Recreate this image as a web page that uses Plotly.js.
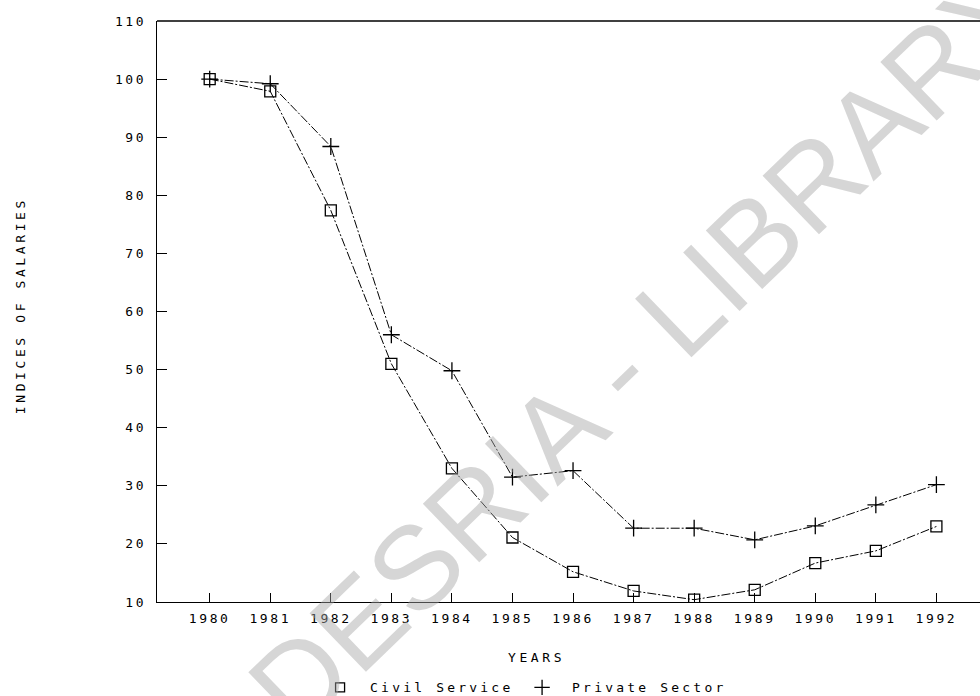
<!DOCTYPE html>
<html><head><meta charset="utf-8">
<script src="https://cdn.plot.ly/plotly-3.0.1.min.js"></script>
<style>
html,body{margin:0;padding:0;background:#fff;}
#chart{width:980px;height:696px;}
#chart .xtick text, #chart .ytick text{letter-spacing:2.6px;}
#chart .legendtext{letter-spacing:3.2px;}
#chart .legend .scrollbox, #chart .legend g{clip-path:none !important;}
#chart g.annotation[data-index="1"] text, #chart g.annotation[data-index="2"] text{letter-spacing:3.6px;}
</style>
</head><body><div id="chart"></div>
<script>
const years = [1980,1981,1982,1983,1984,1985,1986,1987,1988,1989,1990,1991,1992];
const civilService = [100,97.9,77.4,51.0,33.0,21.1,15.2,11.9,10.4,12.1,16.7,18.8,23.0];
const privateSector = [100,99.2,88.4,56.0,49.8,31.5,32.6,22.7,22.7,20.7,23.1,26.7,30.2];
const yTicks = [10,20,30,40,50,60,70,80,90,100,110];
const seriesNames = ['Civil Service','Private Sector'];
const xTitle = 'YEARS';
const yTitle = 'INDICES OF SALARIES';
const watermark = 'CODESRIA - LIBRARY';

const mono = 'DejaVu Sans Mono, monospace';
const traces = [
  {x: years, y: civilService, mode: 'lines+markers', name: seriesNames[0], showlegend: false,
   line: {color: '#000', width: 1, dash: '9px,2px,2px,2px'},
   marker: {symbol: 'square-open', size: 11, color: '#000', line: {width: 1.3, color: '#000'}}},
  {x: years, y: privateSector, mode: 'lines+markers', name: seriesNames[1], showlegend: false,
   line: {color: '#000', width: 1, dash: '9px,2px,2px,2px'},
   marker: {symbol: 'cross-thin-open', size: 12, color: '#000', line: {width: 1.3, color: '#000'}}},
  {x: [null], y: [null], mode: 'markers', name: seriesNames[0], showlegend: true,
   marker: {symbol: 'square-open', size: 9, color: '#000', line: {width: 1.3, color: '#000'}}},
  {x: [null], y: [null], mode: 'markers', name: seriesNames[1], showlegend: true,
   marker: {symbol: 'cross-thin-open', size: 11, color: '#000', line: {width: 1.3, color: '#000'}}}
];

const layout = {
  width: 980, height: 696,
  margin: {l: 157, r: 0, t: 21, b: 94, autoexpand: false},
  paper_bgcolor: '#fff', plot_bgcolor: '#fff',
  font: {family: mono, color: '#000', size: 13},
  showlegend: true,
  legend: {orientation: 'h', x: 0.186, xanchor: 'left', y: -0.147, yanchor: 'middle',
           itemwidth: 50, entrywidth: 137, entrywidthmode: 'pixels',
           bgcolor: 'rgba(0,0,0,0)', borderwidth: 0,
           font: {family: mono, size: 13, color: '#000'}},
  xaxis: {range: [1979.13, 1992.72], tickmode: 'array', tickvals: years, ticktext: years.map(String),
          ticks: 'inside', ticklen: 9, tickcolor: '#000', tickwidth: 1, ticklabelstandoff: 4,
          showline: true, linecolor: '#000', linewidth: 1.2,
          showgrid: false, zeroline: false,
          tickfont: {family: mono, size: 13}},
  yaxis: {range: [10, 110], tickmode: 'array', tickvals: yTicks, ticktext: yTicks.map(String),
          ticks: 'inside', ticklen: 10, tickcolor: '#000', tickwidth: 1, ticklabelstandoff: 7,
          showline: true, linecolor: '#000', linewidth: 1.2,
          showgrid: false, zeroline: false,
          tickfont: {family: mono, size: 13}},
  shapes: [{type: 'line', xref: 'paper', yref: 'paper', x0: 0, x1: 1, y0: 1, y1: 1,
            line: {color: '#000', width: 1.3}}],
  annotations: [
    {text: watermark, xref: 'paper', yref: 'paper', x: (580-157)/823, y: 1-(408-21)/581,
     xanchor: 'center', yanchor: 'middle', showarrow: false, textangle: -44,
     font: {family: 'Liberation Sans, Arial, sans-serif', size: 118, color: 'rgba(165,165,165,0.45)'}},
    {text: xTitle, xref: 'paper', yref: 'paper', x: (536-157)/823, y: 1-(657-21)/581,
     xanchor: 'center', yanchor: 'middle', showarrow: false,
     font: {family: mono, size: 13, color: '#000'}},
    {text: yTitle, xref: 'paper', yref: 'paper', x: (20-157)/823, y: 1-(306-21)/581,
     xanchor: 'center', yanchor: 'middle', showarrow: false, textangle: -90,
     font: {family: mono, size: 13, color: '#000'}}
  ]
};

Plotly.newPlot('chart', traces, layout, {displayModeBar: false, staticPlot: true});
</script></body></html>
